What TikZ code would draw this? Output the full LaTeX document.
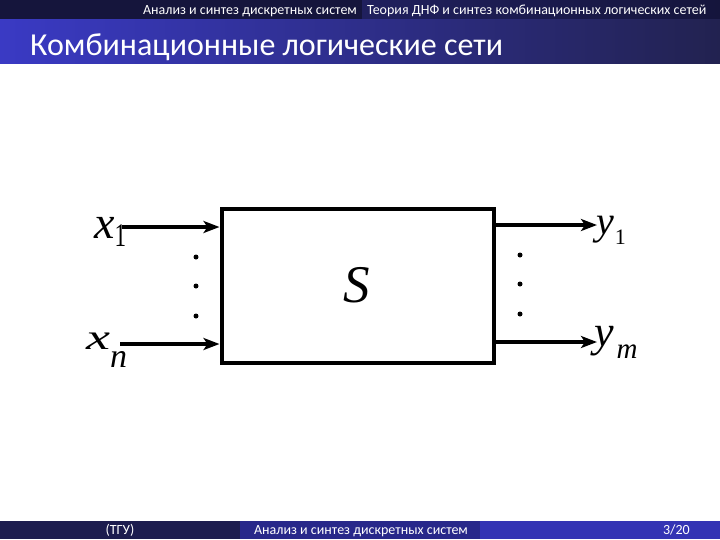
\documentclass[tikz,border=0pt]{standalone}
\usepackage{fontspec}
\setmainfont{Liberation Serif}
\newfontfamily\slidefont{Carlito}
\usetikzlibrary{arrows.meta}
\definecolor{navyA}{HTML}{15153C}
\definecolor{navyB}{HTML}{20205E}
\definecolor{titleL}{HTML}{3A3AC4}
\definecolor{titleR}{HTML}{222250}
\definecolor{footA}{HTML}{1C1C4E}
\definecolor{footB}{HTML}{28288A}
\definecolor{footC}{HTML}{3434B4}
\newcommand{\fsz}[1]{\fontsize{#1}{#1}\selectfont}
\tikzset{
  hdr/.style={text=white, font=\slidefont\fsz{14}, inner sep=0pt},
  ttl/.style={text=white, font=\slidefont\fsz{32}, inner sep=0pt, anchor=base west},
  ftr/.style={text=white, font=\slidefont\fsz{14}, inner sep=0pt},
  sysbox/.style={draw=black, line width=4pt, minimum width=272pt, minimum height=154pt, inner sep=0pt},
  sig/.style={draw=black, line width=3.5pt, -{Stealth[length=16pt,width=12pt,inset=4pt]}},
  lbl/.style={inner sep=0pt, anchor=base west},
  dotnode/.style={circle, fill=black, inner sep=0pt, minimum size=5pt}
}
\begin{document}
\begin{tikzpicture}[x=1pt,y=-1pt]
\useasboundingbox (0,0) rectangle (720,539);
\fill[white] (0,0) rectangle (720,539);
% header
\fill[navyA] (0,0) rectangle (362,19);
\shade[left color=navyB, right color=navyA] (362,0) rectangle (720,19);
\shade[left color=titleL, right color=titleR] (0,19) rectangle (720,63);
\node[hdr, anchor=base east] (h1) at (357,14) {Анализ и синтез дискретных систем};
\node[hdr, anchor=base west] (h2) at (367,14) {Теория ДНФ и синтез комбинационных логических сетей};
\node[ttl] (title) at (30,55) {Комбинационные логические сети};
% footer
\fill[footA] (0,521) rectangle (240,539);
\fill[footB] (240,521) rectangle (480,539);
\fill[footC] (480,521) rectangle (720,539);
\node[ftr, anchor=base] (f1) at (120,534) {(ТГУ)};
\node[ftr, anchor=base] (f2) at (361,534) {Анализ и синтез дискретных систем};
\node[ftr, anchor=base east] (f3) at (690,534) {3/20};
% diagram
\node[sysbox] (S) at (357.5,285.5) {};
\node[lbl] (Slab) at (343,302) {\fsz{53}\itshape S};
\coordinate (x1s) at (122,227);
\coordinate (xns) at (120,344);
\coordinate (y1e) at (597,225);
\coordinate (yme) at (597,342);
\draw[sig] (x1s) -- (x1s -| S.west);
\draw[sig] (xns) -- (xns -| S.west);
\draw[sig] (y1e -| S.east) -- (y1e);
\draw[sig] (yme -| S.east) -- (yme);
\node[lbl] (x1) at (94,238) {{\fsz{46}\itshape x}\raisebox{-8pt}{\fsz{33}\scalebox{0.7}[1]{1}}};
\node[lbl] (xn) at (86,349) {\scalebox{1.35}[0.9]{\fsz{40}\itshape x}\raisebox{-18pt}{\fsz{34}\itshape n}};
\node[lbl] (y1) at (596,234) {{\fsz{40}\itshape y}\kern1pt\raisebox{-10pt}{\fsz{22}1}};
\node[lbl] (ym) at (594,346) {{\fsz{44}\itshape y}\kern3pt\raisebox{-12pt}{\fsz{29}\itshape m}};
\node[dotnode] (dl1) at (196,257) {};
\node[dotnode] (dl2) at (196,286) {};
\node[dotnode] (dl3) at (196,316) {};
\node[dotnode] (dr1) at (520,255) {};
\node[dotnode] (dr2) at (520,284) {};
\node[dotnode] (dr3) at (520,314) {};
\end{tikzpicture}
\end{document}
